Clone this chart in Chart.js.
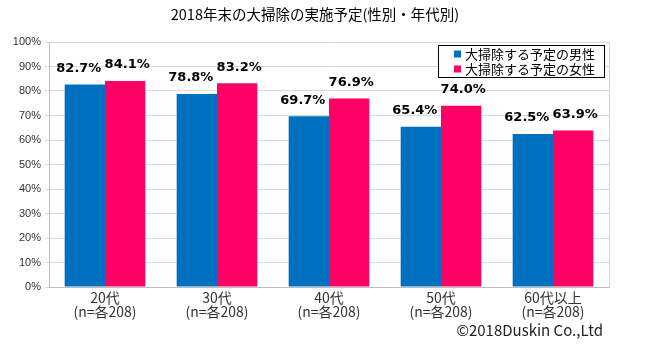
<!DOCTYPE html>
<html>
<head>
<meta charset="utf-8">
<script src="https://cdn.jsdelivr.net/npm/chart.js@4/dist/chart.umd.min.js"></script>
<style>
  html, body { margin: 0; padding: 0; background: #fff; }
  #wrap { width: 650px; height: 349px; }
</style>
</head>
<body>
<div id="wrap"><canvas id="chart" width="650" height="349"></canvas></div>
<script>
// Data
const categories = [['20代', '(n=各208)'], ['30代', '(n=各208)'], ['40代', '(n=各208)'], ['50代', '(n=各208)'], ['60代以上', '(n=各208)']];
const seriesNames = ['大掃除する予定の男性', '大掃除する予定の女性'];
const maleValues = [82.7, 78.8, 69.7, 65.4, 62.5];
const femaleValues = [84.1, 83.2, 76.9, 74.0, 63.9];
const yTicks = [0, 10, 20, 30, 40, 50, 60, 70, 80, 90, 100];

const titleText = '2018年末の大掃除の実施予定(性別・年代別)';
const creditText = '©2018Duskin Co.,Ltd';
const jpFont = "'Noto Sans CJK JP', 'Noto Sans', sans-serif";
const numFont = "'Liberation Sans', Arial, sans-serif";

// Title, value labels, legend box, right border and credit
const decorPlugin = {
    id: 'decor',
    afterDatasetsDraw(chart) {
        const ctx = chart.ctx;
        const area = chart.chartArea;
        ctx.save();

        // right border of the plot area
        ctx.strokeStyle = '#d9d9d9';
        ctx.lineWidth = 1;
        ctx.beginPath();
        ctx.moveTo(Math.round(area.right) + 0.5, area.top);
        ctx.lineTo(Math.round(area.right) + 0.5, area.bottom);
        ctx.stroke();

        // value labels
        ctx.font = "bold 13px 'DejaVu Sans', Verdana, sans-serif";
        ctx.fillStyle = '#000';
        ctx.textAlign = 'center';
        ctx.textBaseline = 'middle';
        const shifts = [-6, 2];
        chart.data.datasets.forEach((ds, di) => {
            chart.getDatasetMeta(di).data.forEach((bar, i) => {
                ctx.fillText(ds.data[i].toFixed(1) + '%', bar.x + shifts[di], bar.y - 16);
            });
        });

        // legend box
        const lx = 438, ly = 45, lw = 166, lh = 32;
        ctx.fillStyle = '#fff';
        ctx.fillRect(lx, ly, lw, lh);
        ctx.strokeStyle = '#000';
        ctx.lineWidth = 1;
        ctx.strokeRect(lx + 0.5, ly + 0.5, lw, lh);
        ctx.font = '13px ' + jpFont;
        ctx.textAlign = 'left';
        chart.data.datasets.forEach((ds, di) => {
            const cy = ly + 9 + di * 15;
            ctx.fillStyle = ds.backgroundColor;
            ctx.fillRect(lx + 16, cy - 3.5, 7, 7);
            ctx.fillStyle = '#000';
            ctx.fillText(ds.label, lx + 27, cy);
        });

        // title
        ctx.font = '14.5px ' + jpFont;
        ctx.fillStyle = '#000';
        ctx.textAlign = 'center';
        ctx.fillText(titleText, 315, 14);

        // credit
        ctx.font = '15px ' + jpFont;
        ctx.fillStyle = '#222';
        ctx.textAlign = 'right';
        ctx.fillText(creditText, 603, 330);

        ctx.restore();
    }
};

new Chart(document.getElementById('chart').getContext('2d'), {
    type: 'bar',
    data: {
        labels: categories,
        datasets: [
            {
                label: seriesNames[0],
                data: maleValues,
                backgroundColor: '#0070C0',
                categoryPercentage: 0.72,
                barPercentage: 1.0
            },
            {
                label: seriesNames[1],
                data: femaleValues,
                backgroundColor: '#FF0066',
                categoryPercentage: 0.72,
                barPercentage: 1.0
            }
        ]
    },
    options: {
        responsive: false,
        animation: false,
        layout: {
            padding: { left: 0, top: 42, right: 41, bottom: 0 }
        },
        plugins: {
            legend: { display: false },
            title: { display: false },
            tooltip: { enabled: false }
        },
        scales: {
            x: {
                grid: { display: false, drawTicks: false },
                border: { color: '#bfbfbf' },
                ticks: {
                    color: '#333',
                    font: { family: jpFont, size: 14, lineHeight: 1.0 },
                    padding: 4,
                    maxRotation: 0,
                    autoSkip: false
                },
                afterFit(scale) { scale.height = 62; }
            },
            y: {
                min: 0,
                max: 100,
                afterBuildTicks(scale) {
                    scale.ticks = yTicks.map(v => ({ value: v }));
                },
                grid: { color: '#d9d9d9', tickLength: 4, drawTicks: true },
                border: { color: '#bfbfbf' },
                ticks: {
                    color: '#333',
                    font: { family: numFont, size: 11 },
                    padding: 4,
                    callback: v => v + '%'
                },
                afterFit(scale) { scale.width = 49; }
            }
        }
    },
    plugins: [decorPlugin]
});
</script>
</body>
</html>
